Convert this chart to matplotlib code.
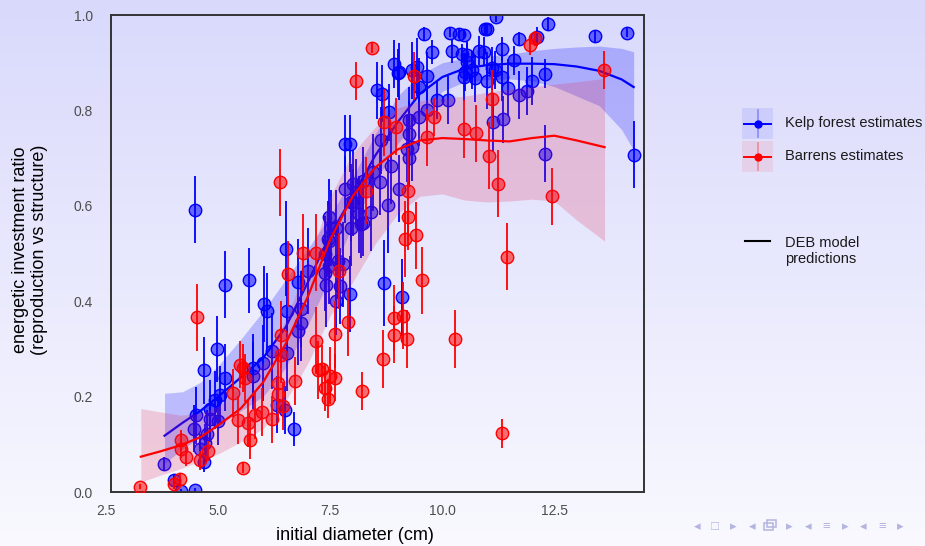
import numpy as np
import matplotlib.pyplot as plt
from matplotlib.patches import Rectangle

# kelp forest estimates (blue)
kelp_x = [11.19, 12.36, 9.59, 10.16, 10.37, 10.48, 10.95, 10.99, 13.40, 14.13,
          11.70, 12.12, 9.77, 10.22, 10.44, 10.55, 10.81, 10.92, 11.33, 10.55,
          11.59, 10.66, 10.51, 11.10, 11.18, 12.28, 9.04, 9.33, 9.44, 9.66,
          10.48, 10.73, 10.99, 11.33, 11.99, 11.47, 11.70, 11.88, 9.48, 9.88,
          10.13, 9.66, 9.48, 11.14, 11.35, 12.28, 14.27, 9.33, 9.04, 8.92,
          9.02, 8.55, 8.66, 8.81, 9.26, 9.26, 9.22, 9.26, 8.63, 8.85,
          7.82, 7.93, 4.49, 8.78, 8.70, 9.11, 5.16, 5.69, 6.02, 6.09,
          6.54, 6.78, 7.00, 7.41, 7.63, 7.71, 7.93, 6.85, 6.85, 6.78,
          6.54, 6.19, 6.00, 5.78, 5.78, 5.16, 4.97, 4.69, 5.04, 4.93,
          4.82, 4.82, 5.00, 4.51, 4.45, 4.75, 4.71, 4.60, 4.67, 3.79,
          4.01, 4.16, 4.47, 6.30, 6.49, 6.69, 7.82, 8.00, 8.22, 7.96,
          8.15, 8.41, 7.48, 7.96, 8.18, 7.63, 7.45, 6.52, 7.78, 8.08,
          8.00, 8.22, 7.52, 7.48, 7.37, 7.67, 7.39, 7.48, 8.45, 8.60]
kelp_y = [0.995, 0.981, 0.960, 0.963, 0.961, 0.959, 0.971, 0.970, 0.956, 0.963,
          0.949, 0.954, 0.923, 0.925, 0.919, 0.916, 0.925, 0.923, 0.928, 0.902,
          0.905, 0.884, 0.881, 0.888, 0.884, 0.877, 0.881, 0.884, 0.891, 0.872,
          0.870, 0.867, 0.862, 0.870, 0.862, 0.848, 0.832, 0.840, 0.849, 0.821,
          0.822, 0.800, 0.786, 0.775, 0.781, 0.709, 0.707, 0.723, 0.636, 0.897,
          0.879, 0.842, 0.835, 0.796, 0.780, 0.750, 0.720, 0.700, 0.737, 0.684,
          0.730, 0.730, 0.592, 0.602, 0.439, 0.408, 0.435, 0.444, 0.394, 0.380,
          0.379, 0.441, 0.463, 0.435, 0.400, 0.432, 0.415, 0.383, 0.354, 0.337,
          0.291, 0.296, 0.270, 0.261, 0.244, 0.240, 0.300, 0.255, 0.204, 0.193,
          0.175, 0.154, 0.149, 0.161, 0.133, 0.121, 0.102, 0.091, 0.062, 0.058,
          0.026, 0.002, 0.004, 0.183, 0.172, 0.132, 0.635, 0.646, 0.653, 0.607,
          0.582, 0.586, 0.577, 0.554, 0.561, 0.554, 0.530, 0.510, 0.477, 0.628,
          0.607, 0.565, 0.554, 0.526, 0.498, 0.484, 0.460, 0.474, 0.670, 0.650]
kelp_err = [0.010, 0.015, 0.015, 0.010, 0.010, 0.010, 0.012, 0.012, 0.012, 0.010,
            0.015, 0.020, 0.025, 0.025, 0.020, 0.030, 0.030, 0.030, 0.025, 0.040,
            0.030, 0.040, 0.040, 0.045, 0.040, 0.030, 0.060, 0.060, 0.060, 0.050,
            0.050, 0.050, 0.060, 0.050, 0.050, 0.060, 0.050, 0.050, 0.060, 0.040,
            0.050, 0.060, 0.060, 0.060, 0.050, 0.060, 0.070, 0.070, 0.070, 0.050,
            0.050, 0.060, 0.060, 0.060, 0.070, 0.070, 0.070, 0.060, 0.070, 0.080,
            0.060, 0.060, 0.070, 0.100, 0.090, 0.080, 0.070, 0.068, 0.080, 0.080,
            0.080, 0.090, 0.090, 0.090, 0.070, 0.080, 0.080, 0.080, 0.080, 0.070,
            0.080, 0.080, 0.080, 0.070, 0.070, 0.070, 0.070, 0.070, 0.060, 0.060,
            0.060, 0.050, 0.050, 0.060, 0.050, 0.050, 0.040, 0.030, 0.020, 0.015,
            0.010, 0.005, 0.005, 0.060, 0.050, 0.035, 0.070, 0.070, 0.070, 0.080,
            0.080, 0.080, 0.080, 0.080, 0.070, 0.080, 0.080, 0.100, 0.090, 0.070,
            0.070, 0.070, 0.080, 0.080, 0.080, 0.080, 0.080, 0.080, 0.080, 0.070]

# barrens estimates (red)
barren_x = [11.95, 12.06, 13.61, 11.10, 9.37, 9.82, 9.66, 10.49, 10.74, 11.05,
            11.25, 12.45, 9.24, 8.08, 8.43, 6.37, 8.70, 8.96, 8.30, 9.24,
            9.17, 9.41, 9.54, 8.91, 9.13, 8.91, 9.22, 10.29, 8.67, 11.45,
            11.34, 8.21, 4.53, 6.56, 6.41, 6.41, 6.71, 7.17, 7.61, 7.90,
            7.22, 7.32, 7.50, 7.61, 7.39, 7.45, 5.56, 5.60, 5.49, 5.32,
            5.45, 5.67, 5.71, 5.82, 5.98, 6.19, 6.34, 6.34, 6.45, 5.56,
            4.16, 4.16, 4.27, 4.60, 4.76, 4.14, 4.01, 3.26, 6.88, 7.19,
            7.70]
barren_y = [0.937, 0.951, 0.884, 0.824, 0.872, 0.787, 0.744, 0.761, 0.752, 0.705,
            0.646, 0.620, 0.632, 0.861, 0.931, 0.649, 0.775, 0.766, 0.632, 0.577,
            0.530, 0.538, 0.444, 0.365, 0.370, 0.330, 0.321, 0.321, 0.279, 0.493,
            0.123, 0.212, 0.366, 0.457, 0.330, 0.288, 0.233, 0.317, 0.331, 0.356,
            0.256, 0.258, 0.244, 0.240, 0.219, 0.196, 0.260, 0.239, 0.267, 0.207,
            0.151, 0.144, 0.110, 0.161, 0.168, 0.152, 0.228, 0.205, 0.181, 0.051,
            0.109, 0.091, 0.074, 0.067, 0.086, 0.028, 0.016, 0.011, 0.502, 0.502,
            0.463]
barren_err = [0.020, 0.015, 0.040, 0.060, 0.050, 0.040, 0.060, 0.060, 0.060, 0.070,
              0.070, 0.060, 0.090, 0.040, 0.010, 0.070, 0.070, 0.060, 0.070, 0.070,
              0.080, 0.070, 0.070, 0.070, 0.070, 0.060, 0.060, 0.060, 0.060, 0.070,
              0.030, 0.040, 0.070, 0.070, 0.070, 0.060, 0.050, 0.070, 0.070, 0.070,
              0.060, 0.050, 0.060, 0.050, 0.050, 0.040, 0.050, 0.050, 0.050, 0.050,
              0.050, 0.050, 0.040, 0.050, 0.050, 0.050, 0.060, 0.050, 0.050, 0.012,
              0.020, 0.020, 0.020, 0.020, 0.020, 0.010, 0.010, 0.005, 0.080, 0.080,
              0.080]

# DEB model predictions with ribbons
kelp_fit_x = [3.8, 4.2, 4.6, 5.0, 5.5, 6.0, 6.5, 7.0, 7.5, 8.0, 8.5, 9.0,
              9.5, 10.0, 10.5, 11.0, 11.5, 12.0, 12.5, 13.0, 13.5, 14.0, 14.27]
kelp_fit = [0.118, 0.145, 0.170, 0.200, 0.240, 0.281, 0.345, 0.440, 0.540, 0.620, 0.705, 0.775,
            0.835, 0.870, 0.888, 0.895, 0.898, 0.898, 0.897, 0.892, 0.883, 0.865, 0.849]
kelp_lo = [0.060, 0.090, 0.115, 0.140, 0.170, 0.200, 0.260, 0.350, 0.450, 0.560, 0.650, 0.730,
           0.790, 0.840, 0.860, 0.865, 0.866, 0.862, 0.850, 0.830, 0.810, 0.760, 0.716]
kelp_hi = [0.207, 0.210, 0.230, 0.265, 0.320, 0.379, 0.445, 0.510, 0.580, 0.660, 0.750, 0.830,
           0.875, 0.900, 0.910, 0.914, 0.918, 0.925, 0.930, 0.933, 0.935, 0.930, 0.923]

barren_fit_x = [3.27, 3.7, 4.16, 4.6, 5.0, 5.5, 6.0, 6.5, 7.0, 7.5, 8.0,
                8.5, 9.0, 9.5, 10.0, 10.5, 11.0, 11.5, 12.0, 12.5, 13.0, 13.62]
barren_fit = [0.074, 0.085, 0.098, 0.115, 0.140, 0.175, 0.230, 0.310, 0.410, 0.530, 0.620,
              0.680, 0.718, 0.737, 0.742, 0.740, 0.737, 0.735, 0.742, 0.747, 0.737, 0.723]
barren_lo = [0.021, 0.035, 0.049, 0.065, 0.080, 0.105, 0.133, 0.190, 0.270, 0.370, 0.440,
             0.520, 0.583, 0.620, 0.625, 0.612, 0.608, 0.610, 0.614, 0.610, 0.570, 0.526]
barren_hi = [0.175, 0.168, 0.161, 0.165, 0.180, 0.220, 0.270, 0.360, 0.480, 0.620, 0.710,
             0.765, 0.805, 0.820, 0.826, 0.830, 0.838, 0.845, 0.850, 0.855, 0.860, 0.867]

x_ticks = [5.0, 7.5, 10.0, 12.5]
y_ticks = [0.0, 0.2, 0.4, 0.6, 0.8, 1.0]

plt.rcParams['font.family'] = ['Liberation Sans', 'DejaVu Sans']

fig = plt.figure(figsize=(9.25, 5.46), dpi=100)

# slide background gradient
bg = fig.add_axes([0, 0, 1, 1], zorder=-10)
top = np.array([0.851, 0.851, 0.988])
bottom = np.array([0.976, 0.976, 1.0])
t = np.linspace(0, 1, 256)[:, None, None]
bg.imshow(top + (bottom - top) * t, aspect='auto', extent=[0, 1, 0, 1])
bg.axis('off')

ax = fig.add_axes([0.12, 0.0989, 0.5762, 0.8736])
ax.patch.set_alpha(0)

# kelp layer
ax.errorbar(kelp_x, kelp_y, yerr=kelp_err, fmt='none', ecolor='blue', elinewidth=1.3, zorder=2)
ax.scatter(kelp_x, kelp_y, s=80, facecolor=(0, 0, 1, 0.55), edgecolor='blue', linewidth=1.0, zorder=2)
ax.fill_between(kelp_fit_x, kelp_lo, kelp_hi, color='blue', alpha=0.22, linewidth=0, zorder=3)
ax.plot(kelp_fit_x, kelp_fit, color='blue', lw=1.6, zorder=4)

# barrens layer
ax.errorbar(barren_x, barren_y, yerr=barren_err, fmt='none', ecolor='red', elinewidth=1.3, zorder=5)
ax.scatter(barren_x, barren_y, s=80, facecolor=(1, 0, 0, 0.55), edgecolor='red', linewidth=1.0, zorder=5)
ax.fill_between(barren_fit_x, barren_lo, barren_hi, color='#e0204a', alpha=0.2, linewidth=0, zorder=6)
ax.plot(barren_fit_x, barren_fit, color='red', lw=1.6, zorder=7)

ax.set_xlim(2.605, 14.5)
ax.set_ylim(0, 1)
ax.set_xticks(x_ticks)
ax.set_xticklabels([f'{v:.1f}' for v in x_ticks])
ax.set_yticks(y_ticks)
ax.set_yticklabels([f'{v:.1f}' for v in y_ticks])
ax.tick_params(length=0, labelsize=10, labelcolor='#4d4d4d')
ax.tick_params(axis='x', pad=8.5)
ax.tick_params(axis='y', pad=13)
# first x label sits left of the panel edge
ax.text(2.5, -0.0395, '2.5', transform=ax.get_xaxis_transform(), ha='center', va='center',
        fontsize=10, color='#4d4d4d')
for s in ax.spines.values():
    s.set_color('#333333')
    s.set_linewidth(1.4)

fig.text(355 / 925, 1 - 536 / 546, 'initial diameter (cm)', ha='center', va='center', fontsize=13)
fig.text(30 / 925, 1 - 250 / 546, 'energetic investment ratio\n(reproduction vs structure)',
         rotation=90, ha='center', va='center', fontsize=13, multialignment='center')

# legend drawn in pixel space
lg = fig.add_axes([0, 0, 1, 1], zorder=5)
lg.set_xlim(0, 925)
lg.set_ylim(546, 0)
lg.axis('off')
for yc, col in [(123.5, 'blue'), (156.5, 'red')]:
    lg.add_patch(Rectangle((742, yc - 15.5), 31, 31, facecolor=col, alpha=0.08, linewidth=0))
    lg.plot([757.5, 757.5], [yc - 13.5, yc + 13.5], color=col, alpha=0.3, lw=1.3)
    lg.plot([744, 771], [yc, yc], color=col, lw=1.4)
    lg.plot([757.5], [yc], 'o', color=col, ms=5)
lg.text(785, 123.5, 'Kelp forest estimates', va='center', fontsize=10.5, color='#1a1a1a')
lg.text(785, 156.5, 'Barrens estimates', va='center', fontsize=10.5, color='#1a1a1a')
lg.plot([745, 770], [241, 241], color='black', lw=1.5)
lg.text(785, 251, 'DEB model\npredictions', va='center', fontsize=10.5, color='#1a1a1a',
        linespacing=1.25)

# beamer navigation symbols
nav_col = '#b4b4e0'
nav = ['◂', '□', '▸', '◂', '', '▸', '◂', '≡', '▸', '◂', '≡', '▸']
nav_x = [697, 715, 733, 752, 769, 789, 808, 826, 845, 863, 882, 900]
for sym, xp in zip(nav, nav_x):
    if sym:
        lg.text(xp, 527, sym, ha='center', va='center', fontsize=9.5, color=nav_col)
# frame icon (two stacked boxes)
lg.add_patch(Rectangle((764, 523), 9, 7, fill=False, edgecolor=nav_col, lw=1.1))
lg.add_patch(Rectangle((767, 520), 9, 7, fill=False, edgecolor=nav_col, lw=1.1))

fig.savefig('out.png', dpi=100)
